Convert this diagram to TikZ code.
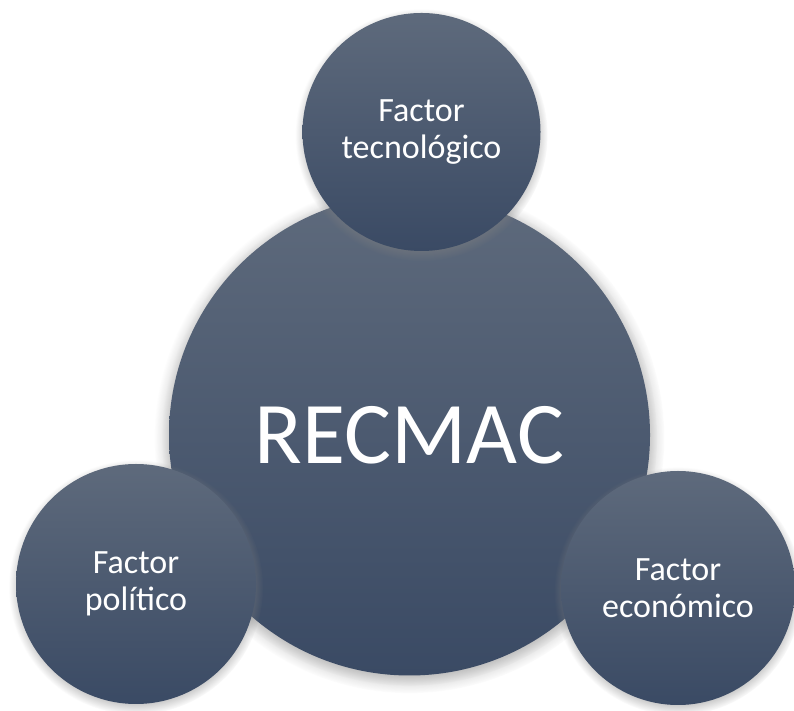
\documentclass[tikz,border=0pt]{standalone}
\usepackage{fontspec}
\setmainfont{Carlito}
\usetikzlibrary{shadows}
\definecolor{circtop}{RGB}{94,106,124}
\definecolor{circbot}{RGB}{58,74,100}

\begin{document}
\begin{tikzpicture}[x=1pt,y=1pt,
  factor/.style={circle, inner sep=0pt, top color=circtop, bottom color=circbot,
    text=white, align=center, font=\fontsize{34}{37}\selectfont,
    circular drop shadow={shadow xshift=0pt, shadow yshift=-3pt, shadow scale=1.06, opacity=0.7}},
  core/.style={factor, font=\fontsize{88}{100}\selectfont,
    circular drop shadow={shadow xshift=0pt, shadow yshift=-3pt, shadow scale=1.03, opacity=0.7}}]
\useasboundingbox (0,0) rectangle (794,711);
\node[core, minimum size=481pt]   (R) at (409.5,276) {RECMAC};
\node[factor, minimum size=238pt] (T) at (421.5,579) {Factor\\tecnológico};
\node[factor, minimum size=240pt] (P) at (136,127)   {Factor\\político};
\node[factor, minimum size=234pt] (E) at (678,123)   {Factor\\económico};
\end{tikzpicture}
\end{document}
